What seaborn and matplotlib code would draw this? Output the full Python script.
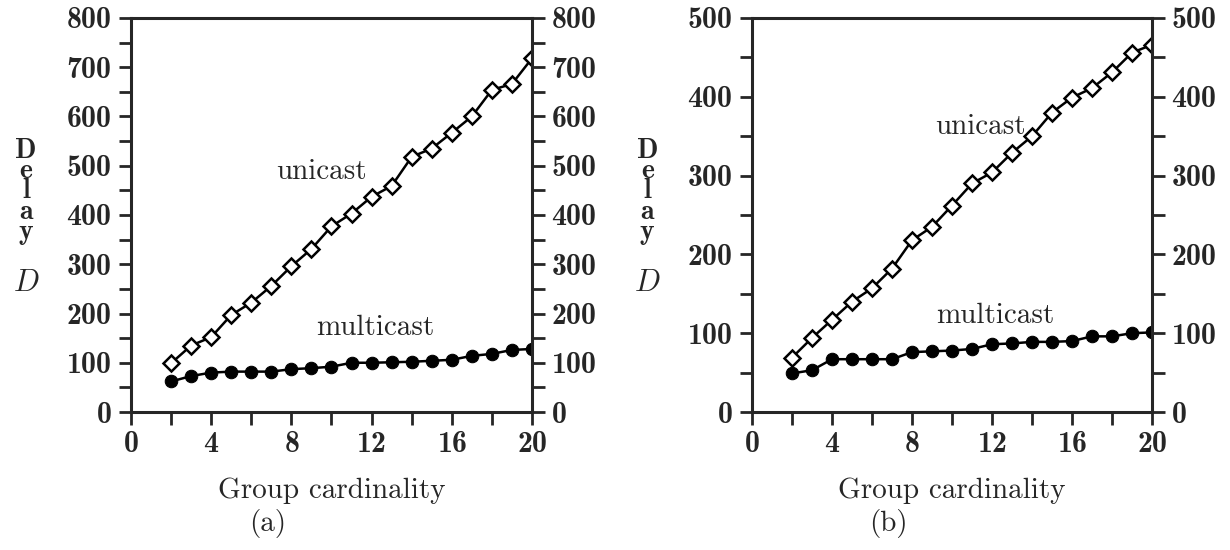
import pandas as pd
import matplotlib.pyplot as plt
import seaborn as sns
from matplotlib.ticker import MultipleLocator

# group cardinality
group_size = list(range(2, 21))

# panel (a)
unicast_a = [99, 135, 152, 197, 222, 256, 296, 331, 377, 403,
             437, 459, 518, 535, 567, 600, 654, 666, 718]
multicast_a = [62, 73, 80, 82, 82, 82, 87, 89, 92, 100,
               100, 101, 102, 104, 106, 114, 118, 126, 128]

# panel (b)
unicast_b = [69, 94, 117, 140, 157, 182, 218, 235, 262, 290,
             304, 329, 350, 380, 399, 411, 431, 456, 466]
multicast_b = [49, 53, 67, 67, 67, 67, 76, 77, 78, 80,
               86, 87, 89, 89, 90, 96, 96, 100, 101]

sns.set_style("ticks")
plt.rcParams['font.family'] = ['cmr10', 'DejaVu Serif']
plt.rcParams['mathtext.fontset'] = 'cm'
plt.rcParams['axes.unicode_minus'] = False
plt.rcParams['axes.formatter.use_mathtext'] = True

BOLD = ['cmb10', 'cmr10', 'DejaVu Serif']


def plot_panel(ax, uni, multi, ymax, ystep, tag, uni_pos, multi_pos):
    df = pd.DataFrame({'n': group_size, 'unicast': uni, 'multicast': multi})
    sns.lineplot(data=df, x='n', y='unicast', ax=ax, color='black', lw=1.8,
                 marker='D', markersize=8, markerfacecolor='white',
                 markeredgecolor='black', markeredgewidth=1.8)
    sns.lineplot(data=df, x='n', y='multicast', ax=ax, color='black', lw=1.8,
                 marker='o', markersize=9, markerfacecolor='black',
                 markeredgecolor='black')
    ax.set_xlim(0, 20)
    ax.set_ylim(0, ymax)
    ax.xaxis.set_major_locator(MultipleLocator(4))
    ax.xaxis.set_minor_locator(MultipleLocator(2))
    ax.yaxis.set_major_locator(MultipleLocator(ystep))
    ax.yaxis.set_minor_locator(MultipleLocator(ystep / 2))
    ax.tick_params(which='both', direction='out', length=9, width=2,
                   right=True, labelright=True, top=False, labelsize=21.5, pad=5)
    for t in ax.xaxis.get_major_ticks() + ax.yaxis.get_major_ticks():
        t.label1.set_family(BOLD)
        t.label2.set_family(BOLD)
    for s in ax.spines.values():
        s.set_linewidth(2.2)
        s.set_visible(True)
    ax.set_xlabel('Group cardinality', fontsize=21, labelpad=14)
    ax.set_ylabel('')
    ax.text(0.34, -0.245, tag, transform=ax.transAxes, fontsize=21,
            ha='center', va='top')
    ax.text(-0.262, 0.56, 'D\ne\nl\na\ny', transform=ax.transAxes,
            fontsize=20, ha='center', va='center', linespacing=0.72,
            family=BOLD)
    ax.text(-0.262, 0.327, '$D$', transform=ax.transAxes, fontsize=22,
            ha='center', va='center')
    ax.text(uni_pos[0], uni_pos[1], 'unicast', fontsize=21,
            ha='center', va='center')
    ax.text(multi_pos[0], multi_pos[1], 'multicast', fontsize=21,
            ha='center', va='center')


fig = plt.figure(figsize=(12.3, 5.5), dpi=100)
ax1 = fig.add_axes([0.1065, 0.2509, 0.326, 0.7164])
ax2 = fig.add_axes([0.6114, 0.2509, 0.3252, 0.7164])

plot_panel(ax1, unicast_a, multicast_a, 800, 100, '(a)', (9.5, 487), (12.2, 170))
plot_panel(ax2, unicast_b, multicast_b, 500, 100, '(b)', (11.4, 362), (12.15, 122))

fig.savefig('out.png', dpi=100)
